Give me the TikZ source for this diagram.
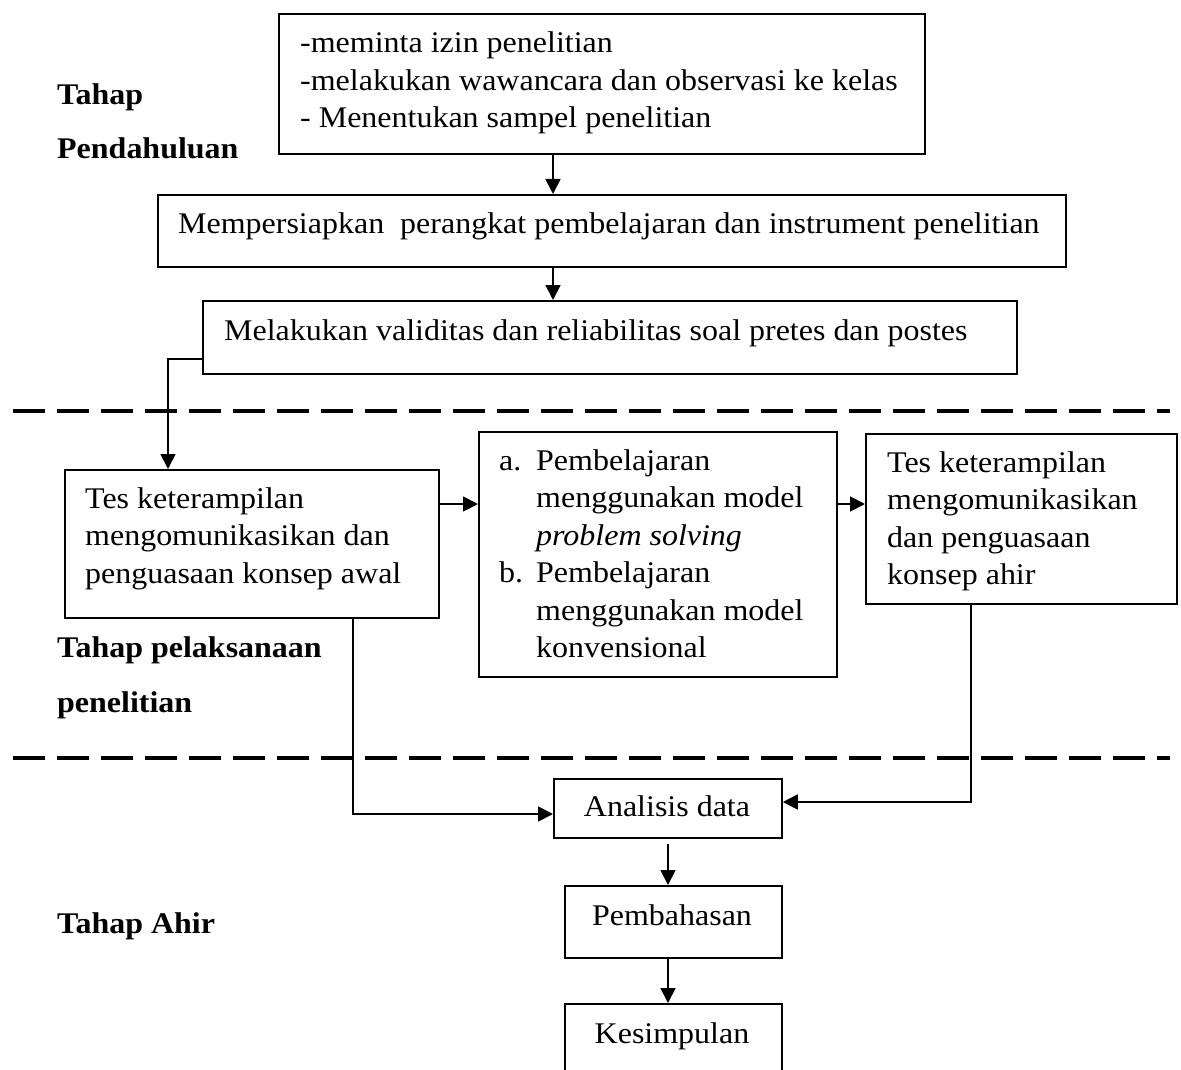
\documentclass[tikz,border=0pt]{standalone}
\usepackage{fontspec}
\setmainfont{Liberation Serif}[FakeStretch=1.066]
\usetikzlibrary{arrows.meta,calc}
\begin{document}
\begin{tikzpicture}[x=1pt,y=-1pt,
  box/.style={draw, line width=1.8pt, inner sep=0pt, anchor=north west},
  txt/.style={inner sep=0pt, anchor=base west, font=\fontsize{30}{37.5}\selectfont},
  ctxt/.style={inner sep=0pt, anchor=base, font=\fontsize{30}{37.5}\selectfont},
  lbl/.style={inner sep=0pt, anchor=base west, font=\fontsize{30}{37.5}\selectfont\bfseries},
  arr/.style={line width=1.8pt, -{Triangle[length=15pt,width=15pt]}},
  dashline/.style={line width=4.5pt, dash pattern=on 32pt off 12pt}]
\useasboundingbox (0,0) rectangle (1181,1070);
\fill[white] (0,0) rectangle (1181,1070);

% boxes
\node[box, minimum width=646pt, minimum height=140pt] (b1) at (278,13) {};
\node[box, minimum width=908pt, minimum height=72pt] (b2) at (157,194) {};
\node[box, minimum width=814pt, minimum height=73pt] (b3) at (202,300) {};
\node[box, minimum width=374pt, minimum height=148pt] (b4) at (64,469) {};
\node[box, minimum width=358pt, minimum height=245pt] (b5) at (478,431) {};
\node[box, minimum width=311pt, minimum height=170pt] (b6) at (865,433) {};
\node[box, minimum width=228pt, minimum height=59pt] (b7) at (553,778) {};
\node[box, minimum width=217pt, minimum height=72pt] (b8) at (564,885) {};
\node[box, minimum width=217pt, minimum height=97pt] (b9) at (564,1003) {};

% box texts
\node[txt] (t1) at (300,53) {\begin{tabular}[t]{@{}l@{}}-meminta izin penelitian\\-melakukan wawancara dan observasi ke kelas\\- Menentukan sampel penelitian\end{tabular}};
\node[txt] (t2) at (178,233) {Mempersiapkan\ \ perangkat pembelajaran dan instrument penelitian};
\node[txt] (t3) at (224,340) {Melakukan validitas dan reliabilitas soal pretes dan postes};
\node[txt] (t4) at (85,508) {\begin{tabular}[t]{@{}l@{}}Tes keterampilan\\mengomunikasikan dan\\penguasaan konsep awal\end{tabular}};
\node[txt] (t5) at (499,470) {\begin{tabular}[t]{@{}l@{}l@{}}\makebox[37pt][l]{a.}&Pembelajaran\\&menggunakan model\\&\textit{problem solving}\\\makebox[37pt][l]{b.}&Pembelajaran\\&menggunakan model\\&konvensional\end{tabular}};
\node[txt] (t6) at (887,472) {\begin{tabular}[t]{@{}l@{}}Tes keterampilan\\mengomunikasikan\\dan penguasaan\\konsep ahir\end{tabular}};
\node[ctxt] (t7) at (667,816) {Analisis data};
\node[ctxt] (t8) at (672,925) {Pembahasan};
\node[ctxt] (t9) at (672,1043) {Kesimpulan};

% stage labels
\node[lbl] (l1) at (57,105) {Tahap};
\node[lbl] (l2) at (57,159) {Pendahuluan};
\node[lbl] (l3) at (57,657) {Tahap pelaksanaan};
\node[lbl] (l4) at (57,712) {penelitian};
\node[lbl] (l5) at (57,933) {Tahap Ahir};

% dashed separators
\coordinate (d1l) at (13,411); \coordinate (d1r) at (1170,411);
\coordinate (d2l) at (13,758); \coordinate (d2r) at (1170,758);
\draw[dashline] (d1l) -- (d1r);
\draw[dashline] (d2l) -- (d2r);

% connectors
\coordinate (xa) at (553,0);
\coordinate (xb) at (668,0);
\coordinate (c1) at (168,359);
\coordinate (r1) at (0,504);
\coordinate (c2) at (353,814);
\coordinate (c3) at (971,802);
\draw[arr] (b1.south -| xa) -- (b2.north -| xa);
\draw[arr] (b2.south -| xa) -- (b3.north -| xa);
\draw[arr] (b3.west |- c1) -- (c1) -- (c1 |- b4.north);
\draw[arr] (b4.east |- r1) -- (b5.west |- r1);
\draw[arr] (b5.east |- r1) -- (b6.west |- r1);
\draw[arr] (b4.south -| c2) -- (c2) -- (b7.west |- c2);
\draw[arr] (b6.south -| c3) -- (c3) -- (b7.east |- c3);
\draw[arr] ([yshift=-5pt]b7.south -| xb) -- (b8.north -| xb);
\draw[arr] (b8.south -| xb) -- (b9.north -| xb);
\end{tikzpicture}
\end{document}
